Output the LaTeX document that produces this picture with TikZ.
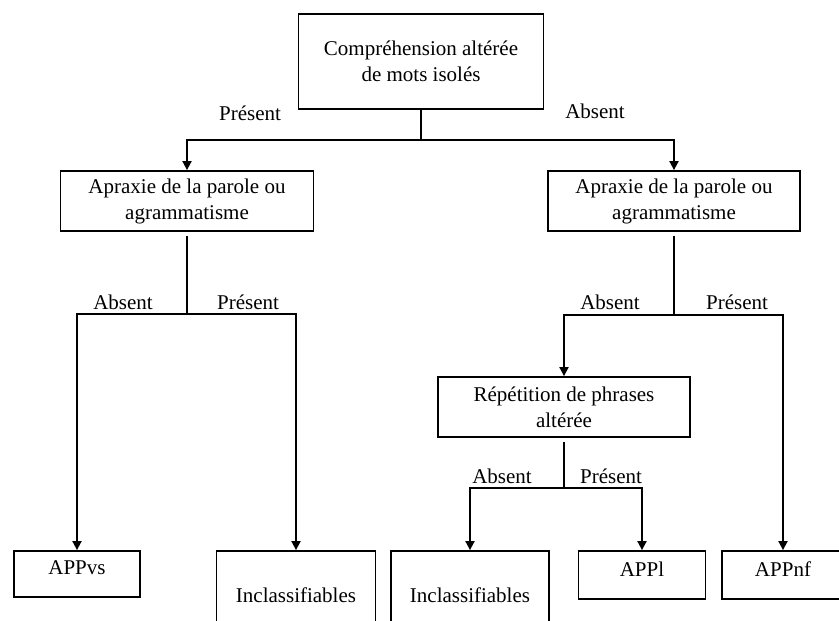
\documentclass[tikz,border=0pt]{standalone}
\usepackage{fontspec}
\setmainfont{Liberation Serif}
\usetikzlibrary{arrows.meta}

\begin{document}
\begin{tikzpicture}[x=1pt, y=-1pt,
	font=\fontsize{21}{26}\selectfont,
	line width=1.8pt,
	>={Triangle[length=9pt,width=9pt]},
	box/.style={shape=rectangle, draw=black, inner sep=0pt, align=center},
	leaf/.style={box, text depth=12pt},
	lbl/.style={inner sep=0pt}]

	\useasboundingbox (0,0) rectangle (839,621);
	\clip (0,0) rectangle (839,621);

	\node[box, minimum width=245, minimum height=95] (comp)   at (421, 61.5) {Compréhension altérée\\de mots isolés};
	\node[box, minimum width=253, minimum height=60] (apraxL) at (187, 201)  {Apraxie de la parole ou\\agrammatisme};
	\node[box, minimum width=252, minimum height=60] (apraxR) at (674, 201)  {Apraxie de la parole ou\\agrammatisme};
	\node[box, minimum width=252, minimum height=60] (repet)  at (564, 407)  {Répétition de phrases\\altérée};

	\node[leaf, minimum width=126, minimum height=46] (appvs)  at (77, 574)   {APPvs};
	\node[box,  minimum width=159, minimum height=88] (inclA)  at (296, 595)  {Inclassifiables};
	\node[box,  minimum width=158, minimum height=88] (inclB)  at (470, 595)  {Inclassifiables};
	\node[leaf, minimum width=127, minimum height=48] (appl)   at (642, 575)  {APPl};
	\node[leaf, minimum width=122, minimum height=48] (appnf)  at (783, 575)  {APPnf};

	\coordinate (j0) at (421, 140);
	\coordinate (j1) at (187, 314);
	\coordinate (j2) at (674, 315);
	\coordinate (j3) at (564, 488);

	% first question
	\draw (comp) -- (j0);
	\draw[->] (j0) -| (apraxL);
	\draw[->] (j0) -| (apraxR);
	\node[lbl] (p0) at (250, 113) {Présent};
	\node[lbl] (a0) at (595, 111) {Absent};

	% left branch
	\draw[shorten <=4pt] (apraxL) -- (j1);
	\draw[->] (j1) -| (appvs);
	\draw[->] (j1) -| (inclA);
	\node[lbl] (a1) at (123, 302) {Absent};
	\node[lbl] (p1) at (248, 302) {Présent};

	% right branch
	\draw[shorten <=4pt] (apraxR) -- (j2);
	\draw[->] (j2) -| (repet);
	\draw[->] (j2) -| (appnf);
	\node[lbl] (a2) at (610, 302) {Absent};
	\node[lbl] (p2) at (737, 302) {Présent};

	\draw[shorten <=4pt] (repet) -- (j3);
	\draw[->] (j3) -| (inclB);
	\draw[->] (j3) -| (appl);
	\node[lbl] (a3) at (502, 476) {Absent};
	\node[lbl] (p3) at (611, 476) {Présent};

\end{tikzpicture}
\end{document}
